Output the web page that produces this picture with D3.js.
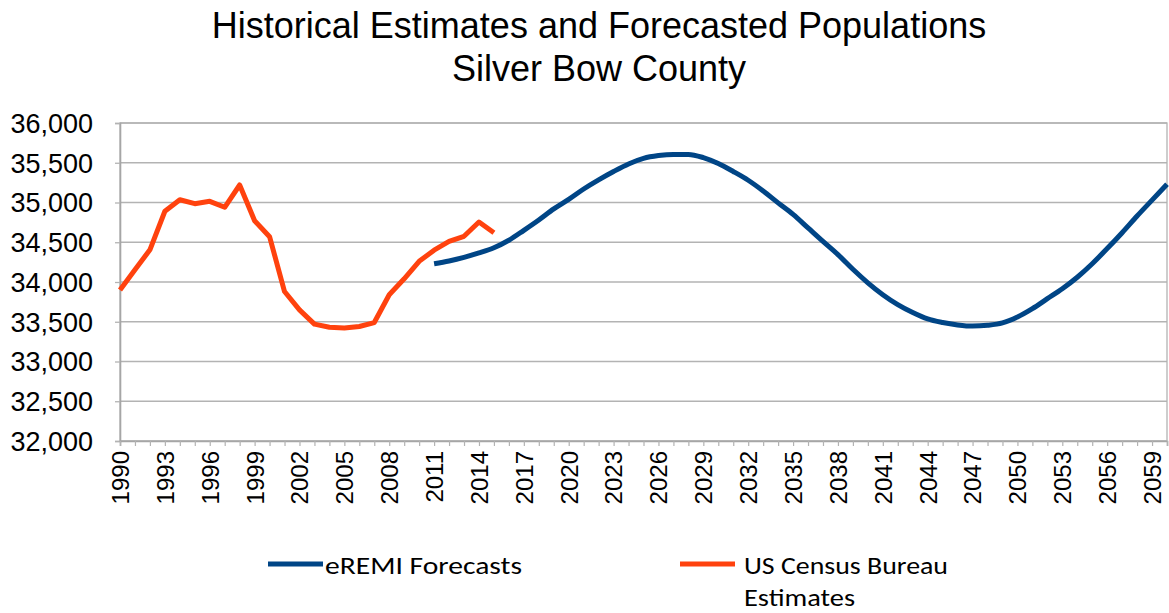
<!DOCTYPE html>
<html>
<head>
<meta charset="utf-8">
<script src="https://cdn.jsdelivr.net/npm/d3@7"></script>
<style>
  html, body { margin: 0; padding: 0; background: #fff; }
  svg { display: block; }
</style>
</head>
<body>
<svg id="chart" width="1169" height="613"></svg>
<script>
// Years on the category axis
const years = d3.range(1990, 2061);

// US Census Bureau estimates, 1990-2015
const censusYears = d3.range(1990, 2016);
const censusValues = [
  33900, 34155, 34405, 34890, 35035, 34985, 35015, 34940, 35220, 34770,
  34570, 33880, 33650, 33470, 33430, 33420, 33440, 33490, 33840, 34040,
  34260, 34400, 34510, 34575, 34755, 34620
];

// eREMI forecasts, 2011-2060
const forecastYears = d3.range(2011, 2061);
const forecastValues = [
  34230, 34265, 34310, 34365, 34430, 34525, 34650, 34780, 34920, 35040,
  35170, 35285, 35390, 35485, 35555, 35590, 35605, 35605, 35565, 35490,
  35390, 35280, 35145, 34995, 34850, 34680, 34510, 34345, 34160, 33990,
  33840, 33715, 33615, 33535, 33490, 33460, 33445, 33455, 33485, 33560,
  33665, 33790, 33915, 34060, 34230, 34420, 34620, 34830, 35030, 35230
];

const yTicks = [32000, 32500, 33000, 33500, 34000, 34500, 35000, 35500, 36000];
const labelYears = years.filter((y, i) => i % 3 === 0);

const titleLines = ["Historical Estimates and Forecasted Populations", "Silver Bow County"];
const seriesNames = ["eREMI Forecasts", "US Census Bureau Estimates"];
const blue = "#004586", orange = "#ff420e";

const svg = d3.select("#chart");
const plot = { left: 120, right: 1167, top: 123, bottom: 441 };

const x = d3.scalePoint().domain(years).range([plot.left, plot.right]).padding(0);
const y = d3.scaleLinear().domain([32000, 36000]).range([plot.bottom, plot.top]);

// Title
svg.append("g").selectAll("text").data(titleLines).join("text")
  .attr("x", 599).attr("y", (d, i) => 38 + i * 43)
  .attr("text-anchor", "middle")
  .attr("font-family", "Liberation Sans, Arial, sans-serif")
  .attr("font-size", 36).attr("fill", "#000")
  .text(d => d);

// Horizontal gridlines
svg.append("g").selectAll("line").data(yTicks).join("line")
  .attr("x1", plot.left).attr("x2", plot.right)
  .attr("y1", d => y(d)).attr("y2", d => y(d))
  .attr("stroke", "#b3b3b3").attr("stroke-width", 1.3);

// Plot frame
svg.append("rect")
  .attr("x", plot.left).attr("y", plot.top)
  .attr("width", plot.right - plot.left).attr("height", plot.bottom - plot.top)
  .attr("fill", "none").attr("stroke", "#b3b3b3").attr("stroke-width", 1.3);

// Y axis
const yAxis = svg.append("g")
  .attr("transform", `translate(${plot.left},0)`)
  .call(d3.axisLeft(y).tickValues(yTicks).tickSize(5).tickPadding(22)
    .tickFormat(d3.format(",")));
yAxis.select(".domain").attr("stroke", "#a6a6a6").attr("stroke-width", 1.6);
yAxis.selectAll(".tick line").attr("stroke", "#b3b3b3").attr("stroke-width", 1.3);
yAxis.selectAll("text")
  .attr("font-family", "Liberation Sans, Arial, sans-serif")
  .attr("font-size", 27).attr("fill", "#000").attr("dy", "0.35em");

// X axis: a tick every year
const xTicksAxis = svg.append("g")
  .attr("transform", `translate(0,${plot.bottom})`)
  .call(d3.axisBottom(x).tickSize(5).tickFormat(""));
xTicksAxis.select(".domain").attr("stroke", "#a6a6a6").attr("stroke-width", 1.6);
xTicksAxis.selectAll(".tick line").attr("stroke", "#b3b3b3").attr("stroke-width", 1.2);

// X axis labels every third year, rotated
const xLabelAxis = svg.append("g")
  .attr("transform", `translate(0,${plot.bottom})`)
  .call(d3.axisBottom(x).tickValues(labelYears).tickSize(0).tickFormat(d3.format("d")));
xLabelAxis.select(".domain").remove();
xLabelAxis.selectAll("text")
  .attr("font-family", "Liberation Sans, Arial, sans-serif")
  .attr("font-size", 24).attr("fill", "#000")
  .attr("text-anchor", "end")
  .attr("transform", "rotate(-90)")
  .attr("x", -10).attr("y", 0).attr("dy", "0.35em");

// Series lines
const forecastLine = d3.line()
  .x((d, i) => x(forecastYears[i]))
  .y(d => y(d))
  .curve(d3.curveMonotoneX);
const censusLine = d3.line()
  .x((d, i) => x(censusYears[i]))
  .y(d => y(d));

svg.append("path").datum(forecastValues)
  .attr("d", forecastLine)
  .attr("fill", "none").attr("stroke", blue)
  .attr("stroke-width", 5).attr("stroke-linejoin", "round").attr("stroke-linecap", "butt");

svg.append("path").datum(censusValues)
  .attr("d", censusLine)
  .attr("fill", "none").attr("stroke", orange)
  .attr("stroke-width", 5).attr("stroke-linejoin", "round").attr("stroke-linecap", "butt");

// Legend
const legendFont = "Carlito, Lato, Calibri, sans-serif";
const legend = svg.append("g");
const legendItems = [
  { color: blue, x0: 268, gap: 57, lines: [seriesNames[0]], widths: [197] },
  { color: orange, x0: 680, gap: 64, lines: ["US Census Bureau", "Estimates"], widths: [204, 111] }
];
legendItems.forEach(item => {
  legend.append("line")
    .attr("x1", item.x0).attr("x2", item.x0 + 55)
    .attr("y1", 564).attr("y2", 564)
    .attr("stroke", item.color).attr("stroke-width", 5);
  legend.append("g").selectAll("text").data(item.lines).join("text")
    .attr("x", item.x0 + item.gap).attr("y", (d, i) => 574 + i * 32)
    .attr("font-family", legendFont).attr("font-size", 24).attr("fill", "#000")
    .attr("textLength", (d, i) => item.widths[i])
    .attr("lengthAdjust", "spacingAndGlyphs")
    .text(d => d);
});
</script>
</body>
</html>
